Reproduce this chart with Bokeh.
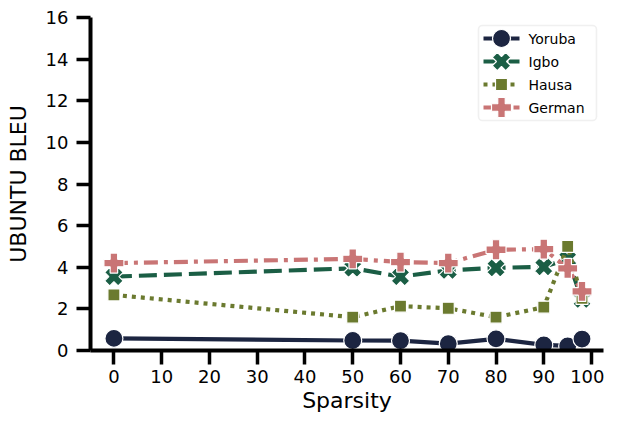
import math
from bokeh.plotting import figure
from bokeh.models import FixedTicker, Range1d, BoxAnnotation
from bokeh.core.properties import value
from bokeh.embed import file_html
from bokeh.resources import INLINE

sparsity = [0, 50, 60, 70, 80, 90, 95, 98]
yoruba = [0.58, 0.48, 0.47, 0.33, 0.56, 0.27, 0.22, 0.55]
igbo = [3.55, 3.95, 3.55, 3.85, 3.97, 4.02, 4.4, 2.45]
hausa = [2.67, 1.6, 2.13, 2.03, 1.6, 2.08, 5.0, 2.5]
german = [4.2, 4.4, 4.25, 4.2, 4.84, 4.87, 3.95, 2.84]
names = ["Yoruba", "Igbo", "Hausa", "German"]

xticks = [0, 10, 20, 30, 40, 50, 60, 70, 80, 90, 100]
yticks = [0, 2, 4, 6, 8, 10, 12, 14, 16]

W, H = 604, 418
BL, BR, BT, BB = 90, 1, 17, 68
X0, X1, Y0, Y1 = -4.9, 102.5, 0, 16

p = figure(width=W, height=H, output_backend="svg", toolbar_location=None,
           x_range=Range1d(X0, X1), y_range=Range1d(Y0, Y1),
           min_border_left=BL, min_border_right=BR, min_border_top=BT, min_border_bottom=BB)
p.outline_line_color = None
p.grid.visible = False
p.background_fill_color = "white"

for ax in (p.xaxis[0], p.yaxis[0]):
    ax.axis_line_width = 4
    ax.major_tick_line_width = 3.5
    ax.major_tick_out = 14
    ax.major_tick_in = 0
    ax.minor_tick_line_color = None
    ax.major_label_text_font = "DejaVu Sans"
    ax.major_label_text_font_size = "18px"
    ax.major_label_text_color = "black"
    ax.axis_label_text_font = "DejaVu Sans"
    ax.axis_label_text_font_size = "22px"
    ax.axis_label_text_font_style = "normal"
    ax.axis_label_text_color = "black"
p.xaxis.ticker = FixedTicker(ticks=xticks)
p.yaxis.ticker = FixedTicker(ticks=yticks)
p.xaxis.axis_label = "Sparsity"
p.yaxis.axis_label = "UBUNTU BLEU"
p.xaxis.major_label_standoff = 5
p.yaxis.major_label_standoff = 8
p.xaxis.axis_label_standoff = 2
p.yaxis.axis_label_standoff = 12

styles = [
    ("#1c2541", "solid", "circle", 18, 0),
    ("#1b5e45", "18 7", "plus", 19, math.pi / 4),
    ("#6b7a2f", "4 5", "square", 12, 0),
    ("#c97575", "14 6 4 6", "plus", 20, 0),
]
values = [yoruba, igbo, hausa, german]

for ys, (color, dash, marker, size, angle) in zip(values, styles):
    p.line(sparsity, ys, line_color=color, line_width=4.2, line_dash=dash)
    p.scatter(sparsity, ys, marker=marker, size=size, angle=angle,
              fill_color=color, line_color="white", line_width=1.2)

# legend (laid out in pixels, converted through the plot's ranges)
FW = W - BL - BR
FH = H - BT - BB


def sx(px):
    return X0 + (px - BL) / FW * (X1 - X0)


def sy(py):
    return Y0 + (H - BB - py) / FH * (Y1 - Y0)


box = BoxAnnotation(left=sx(478), right=sx(596), top=sy(25), bottom=sy(120),
                    fill_color="white", fill_alpha=0.85, line_color="#cccccc",
                    line_width=1.6, border_radius=4, level="underlay")
p.add_layout(box)

for i, (name, (color, dash, marker, size, angle)) in enumerate(zip(names, styles)):
    ry = sy(38 + 23 * i)
    p.line([sx(483), sx(519)], [ry, ry], line_color=color, line_width=4.2, line_dash=dash)
    p.scatter([sx(501)], [ry], marker=marker, size=size, angle=angle,
              fill_color=color, line_color="white", line_width=1.2)
    p.text([sx(528)], [ry], text=[name], text_font=value("DejaVu Sans"),
           text_font_size=value("14px"), text_baseline="middle", text_align="left",
           text_color="black")

open("out.html", "w").write(file_html(p, INLINE))
